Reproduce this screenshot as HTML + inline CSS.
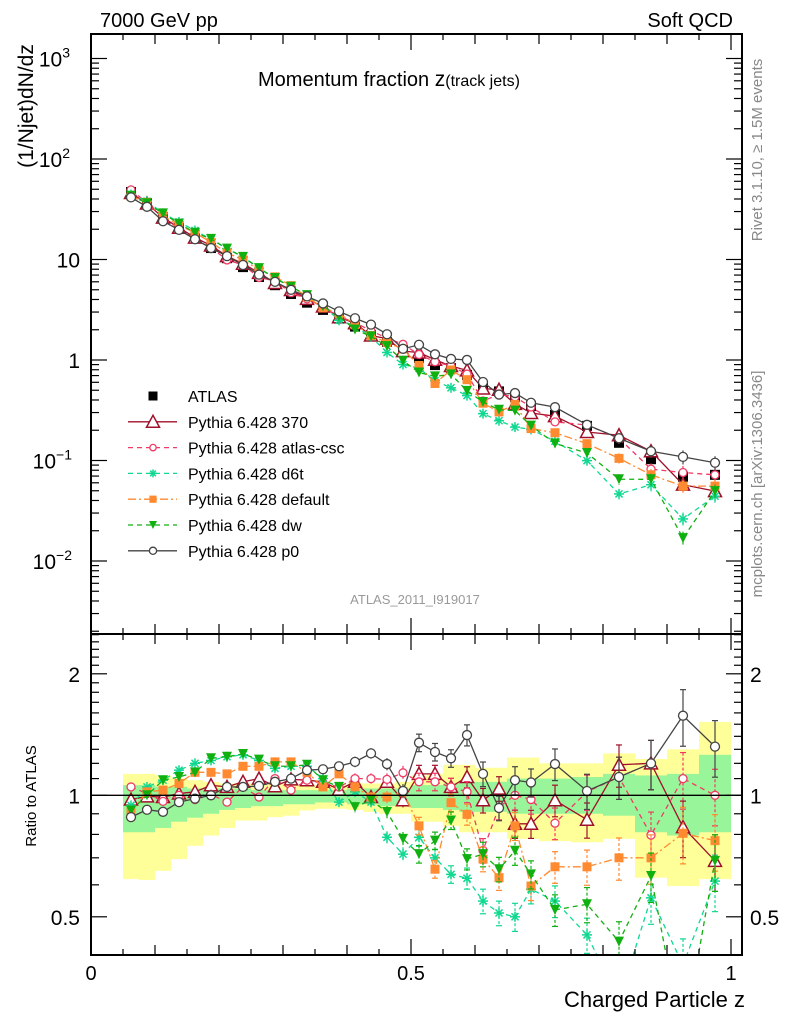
<!DOCTYPE html>
<html><head><meta charset="utf-8"><style>
body{margin:0;background:#fff}
svg{display:block;font-family:"Liberation Sans",Arial,sans-serif}
</style></head><body>
<svg id="chart" xmlns="http://www.w3.org/2000/svg" width="786" height="1024" viewBox="0 0 786 1024">
<defs>
<clipPath id="clipMain"><rect x="91" y="34" width="651" height="600"/></clipPath>
<clipPath id="clipRatio"><rect x="91" y="634" width="651" height="321"/></clipPath>
</defs>
<rect x="0" y="0" width="786" height="1024" fill="#fff"/>
<g id="bands" clip-path="url(#clipRatio)"></g>
<g id="ratioMarks" clip-path="url(#clipRatio)"></g>
<g id="mainMarks" clip-path="url(#clipMain)"></g>
<g id="axes"></g>
<text x="100" y="27" font-size="20">7000 GeV pp</text>
<text x="733" y="27" font-size="20" text-anchor="end">Soft QCD</text>
<text x="258" y="86" font-size="20">Momentum fraction <tspan font-size="21">z</tspan><tspan font-size="16">(track jets)</tspan></text>
<text transform="translate(33,106) rotate(-90)" font-size="21" text-anchor="middle">(1/Njet)dN/dz</text>
<text transform="translate(36,796) rotate(-90)" font-size="15" text-anchor="middle">Ratio to ATLAS</text>
<text x="745" y="1007" font-size="22" text-anchor="end">Charged Particle z</text>
<text transform="translate(762,150) rotate(-90)" font-size="15" fill="#888" text-anchor="middle">Rivet 3.1.10, ≥ 1.5M events</text>
<text transform="translate(762,484) rotate(-90)" font-size="15" fill="#888" text-anchor="middle">mcplots.cern.ch [arXiv:1306.3436]</text>
<text x="415" y="604" font-size="13" fill="#999" text-anchor="middle">ATLAS_2011_I919017</text>
<g id="legend"></g>
</svg>
<script>
const edges=[0.05,0.075,0.1,0.125,0.15,0.175,0.2,0.225,0.25,0.275,0.3,0.325,0.35,0.375,0.4,0.425,0.45,0.475,0.5,0.525,0.55,0.575,0.6,0.625,0.65,0.675,0.7,0.75,0.8,0.85,0.9,0.95,1.0];
const atlas=[47,36.3,26.4,20.5,16.2,13.0,10.3,8.4,6.7,5.55,4.54,3.72,3.15,2.58,2.15,1.77,1.51,1.26,1.05,0.89,0.83,0.71,0.535,0.487,0.43,0.349,0.284,0.221,0.15,0.103,0.069,0.072];
const r370=[0.976,0.994,0.99,1.01,1.02,1.059,1.049,1.08,1.10,1.053,1.095,1.09,1.08,1.033,1.08,0.99,1.08,0.972,1.13,1.13,1.049,1.11,0.972,1.039,0.85,0.85,0.972,0.87,1.19,1.2,0.834,0.688];
const rCsc=[1.049,1.01,0.966,1.0,0.976,1.006,0.962,1.049,0.99,1.10,1.03,1.09,1.07,1.049,1.10,1.10,1.095,1.137,1.08,1.08,1.049,1.02,0.73,0.935,1.0,0.976,0.853,1.02,1.11,0.797,1.10,1.0];
const rD6t=[0.944,1.049,1.09,1.154,1.2,1.22,1.246,1.26,1.22,1.166,1.18,1.18,1.10,0.962,1.02,0.962,0.787,0.715,0.787,0.70,0.637,0.623,0.547,0.511,0.5,0.585,0.547,0.451,0.31,0.557,0.38,0.613];
const rDef=[0.909,1.02,1.03,1.07,1.14,1.14,1.13,1.18,1.18,1.21,1.21,1.14,1.049,1.13,1.049,0.99,0.99,1.02,0.84,0.656,0.959,0.897,0.695,0.625,0.84,0.596,0.665,0.665,0.70,0.70,0.805,0.772];
const rDw=[0.917,1.0,1.09,1.11,1.14,1.235,1.246,1.266,1.226,1.18,1.18,1.19,1.09,1.049,0.935,0.972,0.909,0.78,0.715,0.772,0.866,0.695,0.715,0.656,0.729,0.637,0.52,0.537,0.434,0.631,0.245,0.688];
const rP0=[0.883,0.921,0.91,0.962,0.981,1.0,1.049,1.049,1.055,1.08,1.10,1.154,1.16,1.18,1.21,1.27,1.195,1.025,1.35,1.28,1.235,1.41,1.13,0.93,1.09,1.076,1.195,1.025,1.11,1.2,1.575,1.32];
const mcErr=[0.01,0.01,0.01,0.01,0.01,0.012,0.012,0.015,0.015,0.02,0.02,0.02,0.025,0.025,0.03,0.03,0.035,0.04,0.05,0.05,0.05,0.06,0.07,0.07,0.08,0.08,0.09,0.1,0.12,0.14,0.16,0.16];
const yLo=[0.62,0.617,0.65,0.695,0.75,0.795,0.83,0.866,0.866,0.883,0.89,0.917,0.926,0.926,0.92,0.91,0.9,0.9,0.86,0.86,0.84,0.81,0.81,0.81,0.78,0.78,0.77,0.765,0.78,0.625,0.596,0.62];
const yHi=[1.13,1.13,1.12,1.1,1.09,1.08,1.07,1.07,1.07,1.07,1.06,1.06,1.06,1.06,1.07,1.07,1.07,1.08,1.12,1.13,1.19,1.19,1.17,1.17,1.24,1.24,1.2,1.2,1.27,1.23,1.3,1.52];
const gLo=[0.81,0.81,0.83,0.86,0.88,0.9,0.92,0.93,0.94,0.94,0.95,0.95,0.96,0.96,0.95,0.95,0.94,0.94,0.93,0.93,0.92,0.91,0.91,0.91,0.9,0.9,0.9,0.9,0.89,0.81,0.795,0.81];
const gHi=[1.06,1.06,1.05,1.05,1.04,1.04,1.04,1.04,1.03,1.03,1.03,1.03,1.03,1.03,1.04,1.04,1.04,1.04,1.06,1.06,1.07,1.08,1.08,1.08,1.1,1.1,1.1,1.11,1.13,1.12,1.13,1.26];
const yTickLabels=["10","10","10","1","10","10"];
const ratioTicks=[0.5,1,2];
const xTickLabels=["0","0.5","1"];

const NS="http://www.w3.org/2000/svg";
const sx=z=>91+640*z;
const sy=v=>360-100.5*Math.log10(v);
const sr=r=>795.3-121.5*Math.log2(r);
const centers=edges.slice(0,-1).map((e,i)=>(e+edges[i+1])/2);
function mk(tag,attrs,parent){const e=document.createElementNS(NS,tag);for(const k in attrs)e.setAttribute(k,attrs[k]);parent.appendChild(e);return e;}

const bands=document.getElementById('bands');
atlas.forEach((v,i)=>{
  const x0=sx(edges[i]),x1=sx(edges[i+1]);
  const yb=mk('rect',{x:x0,y:sr(yHi[i]),width:x1-x0,height:sr(yLo[i])-sr(yHi[i]),fill:'#ffff99'},bands);
  
  
  const gb=mk('rect',{x:x0,y:sr(gHi[i]),width:x1-x0,height:sr(gLo[i])-sr(gHi[i]),fill:'#99f599'},bands);
  
  
});

const series=[
 {name:'Pythia 6.428 370',key:'370',r:r370,col:'#a0102a',dash:'',m:'triUp'},
 {name:'Pythia 6.428 atlas-csc',key:'atlas-csc',r:rCsc,col:'#f03a64',dash:'5,4',m:'circSmall'},
 {name:'Pythia 6.428 d6t',key:'d6t',r:rD6t,col:'#10d890',dash:'5,4',m:'star'},
 {name:'Pythia 6.428 default',key:'default',r:rDef,col:'#ff8a30',dash:'8,3,2,3',m:'square'},
 {name:'Pythia 6.428 dw',key:'dw',r:rDw,col:'#10b010',dash:'5,4',m:'triDown'},
 {name:'Pythia 6.428 p0',key:'p0',r:rP0,col:'#444',dash:'',m:'circ'}
];
function marker(type,x,y,col,parent,s){
  s=s||1;
  if(type==='triUp')return mk('path',{d:`M${x},${y-6.5*s}L${x+6.5*s},${y+5.5*s}L${x-6.5*s},${y+5.5*s}Z`,fill:'#fff',stroke:col,'stroke-width':1.5},parent);
  if(type==='triDown')return mk('path',{d:`M${x-5*s},${y-5*s}L${x+5*s},${y-5*s}L${x},${y+5*s}Z`,fill:col},parent);
  if(type==='circSmall')return mk('circle',{cx:x,cy:y,r:4*s,fill:'#fff',stroke:col,'stroke-width':1.3},parent);
  if(type==='circ')return mk('circle',{cx:x,cy:y,r:4.5*s,fill:'#fff',stroke:col,'stroke-width':1.3},parent);
  if(type==='square')return mk('rect',{x:x-4.5*s,y:y-4.5*s,width:9*s,height:9*s,fill:col},parent);
  if(type==='blacksq')return mk('rect',{x:x-5*s,y:y-5*s,width:10*s,height:10*s,fill:col},parent);
  if(type==='star'){const g=mk('g',{stroke:col,'stroke-width':1.5},parent);
    for(let a=0;a<4;a++){const t=a*Math.PI/4,d=5*s;mk('line',{x1:x-d*Math.cos(t),y1:y-d*Math.sin(t),x2:x+d*Math.cos(t),y2:y+d*Math.sin(t)},g);}return g;}
}
const mainG=document.getElementById('mainMarks'), ratioG=document.getElementById('ratioMarks');
series.forEach(s=>{
  const vals=atlas.map((a,i)=>a*s.r[i]);
  const gm=mk('g',{},mainG);
  
  
  mk('polyline',{points:vals.map((v,i)=>sx(centers[i])+','+sy(v)).join(' '),fill:'none',stroke:s.col,'stroke-width':1.3,'stroke-dasharray':s.dash},gm);
  const gr=mk('g',{},ratioG);
  
  
  mk('polyline',{points:s.r.map((v,i)=>sx(centers[i])+','+sr(v)).join(' '),fill:'none',stroke:s.col,'stroke-width':1.3,'stroke-dasharray':s.dash},gr);
  vals.forEach((v,i)=>{
    const x=sx(centers[i]),e=mcErr[i];
    mk('line',{x1:x,x2:x,y1:sy(v*(1+e)),y2:sy(v*(1-e)),stroke:s.col,'stroke-width':1.2,'stroke-dasharray':s.dash?'3,2':''},gm);
    marker(s.m,x,sy(v),s.col,gm);
    const r=s.r[i];
    mk('line',{x1:x,x2:x,y1:sr(r*(1+e)),y2:sr(r*(1-e)),stroke:s.col,'stroke-width':1.2,'stroke-dasharray':s.dash?'3,2':''},gr);
    if(i>=18){mk('line',{x1:x-3,x2:x+3,y1:sr(r*(1+e)),y2:sr(r*(1+e)),stroke:s.col,'stroke-width':1.2},gr);mk('line',{x1:x-3,x2:x+3,y1:sr(r*(1-e)),y2:sr(r*(1-e)),stroke:s.col,'stroke-width':1.2},gr);}
    marker(s.m,x,sr(r),s.col,gr);
  });
});
const ga=mk('g',{},mainG);


mainG.insertBefore(ga,mainG.firstChild);
atlas.forEach((v,i)=>{marker('blacksq',sx(centers[i]),sy(v),'#000',ga);});
mk('line',{x1:91,x2:742,y1:sr(1),y2:sr(1),stroke:'#000','stroke-width':1.3},ratioG);

const ax=document.getElementById('axes');
mk('rect',{x:91,y:34,width:651,height:600,fill:'none',stroke:'#000','stroke-width':2},ax);
mk('rect',{x:91,y:634,width:651,height:321,fill:'none',stroke:'#000','stroke-width':2},ax);
for(let k=1;k<=20;k++){const z=k*0.05,x=sx(z);const L=(k%10===0)?16:(k%2===0?10:6);
  [[34,1],[634,-1],[634,1],[955,-1]].forEach(([y,d])=>mk('line',{x1:x,x2:x,y1:y,y2:y+d*L,stroke:'#000','stroke-width':1.2},ax));}
xTickLabels.forEach((t,i)=>{const tl=mk('text',{x:sx(i*0.5),y:980,'font-size':20,'text-anchor':'middle'},ax);tl.textContent=t;
  });
for(let d=-3;d<=3;d++){for(let m=1;m<10;m++){const v=m*Math.pow(10,d),y=sy(v);if(y<34||y>634)continue;const L=m===1?16:8;
  mk('line',{x1:91,x2:91+L,y1:y,y2:y,stroke:'#000','stroke-width':1.2},ax);mk('line',{x1:742,x2:742-L,y1:y,y2:y,stroke:'#000','stroke-width':1.2},ax);}}
[3,2,1,0,-1,-2].forEach((p,i)=>{const y=sy(Math.pow(10,p));const t=mk('text',{x:p===3||p===2?70:(p<0?72:80),y:y+8,'font-size':21,'text-anchor':'end'},ax);
  
  t.textContent=p===0?'1':yTickLabels[i];
  if(p!==0&&p!==1){const sp=mk('tspan',{dy:-9,'font-size':14},t);sp.textContent=String(p).replace('-','−');}});
for(let v=0.4;v<=2.6;v+=0.1){const y=sr(v);if(y<634||y>955)continue;const maj=ratioTicks.some(t=>Math.abs(t-v)<1e-6);const L=maj?16:8;
  mk('line',{x1:91,x2:91+L,y1:y,y2:y,stroke:'#000','stroke-width':1.2},ax);mk('line',{x1:742,x2:742-L,y1:y,y2:y,stroke:'#000','stroke-width':1.2},ax);}
ratioTicks.forEach(v=>{const y=sr(v);
  const a=mk('text',{x:80,y:y+8,'font-size':21,'text-anchor':'end'},ax);a.textContent=String(v);
  const b=mk('text',{x:750,y:y+8,'font-size':21},ax);b.textContent=String(v);});

const lg=document.getElementById('legend');
const rows=[{name:'ATLAS',m:'blacksq',col:'#000',dash:null,key:'atlas'}].concat(series);
rows.forEach((s,i)=>{const y=396+i*25.8;
  const g=mk('g',{},lg);
  
  
  if(s.dash!==null&&s.dash!==undefined)mk('line',{x1:128,x2:177,y1:y,y2:y,stroke:s.col,'stroke-width':1.3,'stroke-dasharray':s.dash},g);
  marker(s.m,153,y,s.col,g,s.m==='blacksq'?0.9:(s.m==='triUp'?1:0.8));
  const t=mk('text',{x:188,y:y+6,'font-size':16},g);t.textContent=s.name;});
</script>
</body></html>
